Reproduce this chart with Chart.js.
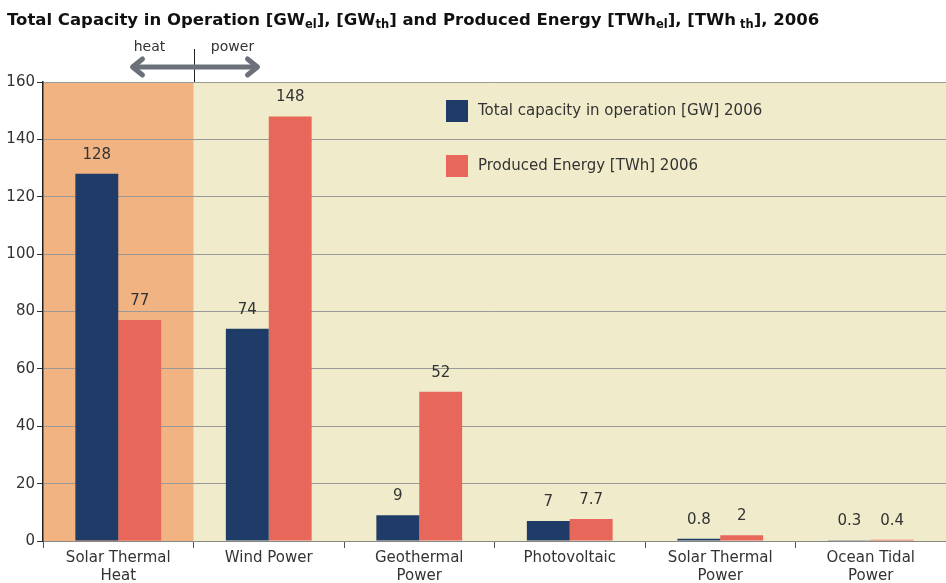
<!DOCTYPE html>
<html><head><meta charset="utf-8">
<script src="https://cdn.jsdelivr.net/npm/chart.js@4"></script>
<style>html,body{margin:0;padding:0;background:#fff}#wrap{width:946px;height:583px;position:relative}</style>
</head><body><div id="wrap"><canvas id="c" width="946" height="583"></canvas></div>
<script>
const categories = [["Solar Thermal","Heat"],["Wind Power"],["Geothermal","Power"],["Photovoltaic"],["Solar Thermal","Power"],["Ocean Tidal","Power"]];
const capacity = [128, 74, 9, 7, 0.8, 0.3];
const energy = [77, 148, 52, 7.7, 2, 0.4];
const capacityLabels = ["128","74","9","7","0.8","0.3"];
const energyLabels = ["77","148","52","7.7","2","0.4"];
const yTicks = [0,20,40,60,80,100,120,140,160];
const seriesNames = ["Total capacity in operation [GW] 2006","Produced Energy [TWh] 2006"];
const FONT = '"DejaVu Sans", Verdana, sans-serif';
const TXT = '#333333';

const overlay = {
  id:'overlay',
  beforeDraw(chart){
    const {ctx, chartArea:a, scales:{x}} = chart;
    const b = (x.getPixelForValue(0)+x.getPixelForValue(1))/2;
    ctx.save();
    ctx.fillStyle='#F0ECCB'; ctx.fillRect(a.left,a.top,a.right-a.left,a.bottom-a.top);
    ctx.fillStyle='#F2B383'; ctx.fillRect(a.left,a.top,b-a.left,a.bottom-a.top);
    ctx.restore();
  },
  afterDraw(chart){
    const {ctx, chartArea:a, scales:{x,y}} = chart;
    ctx.save();
    const parts=[["Total Capacity in Operation [GW",0],["el",1],["], [GW",0],["th",1],["] and Produced Energy [TWh",0],["el",1],["], [TWh",0],[" th",1],["], 2006",0]];
    let px=7;
    ctx.fillStyle='#111'; ctx.textBaseline='alphabetic'; ctx.textAlign='left';
    for(const [t,s] of parts){
      ctx.font = s? 'bold 11.5px '+FONT : 'bold 16.5px '+FONT;
      ctx.fillText(t,px, s?28:25);
      px += ctx.measureText(t).width;
    }
    const b = (x.getPixelForValue(0)+x.getPixelForValue(1))/2;
    ctx.font='14px '+FONT; ctx.fillStyle=TXT; ctx.textAlign='center'; ctx.textBaseline='middle';
    ctx.fillText('heat', b-44, 47);
    ctx.fillText('power', b+39, 47);
    ctx.strokeStyle='#222'; ctx.lineWidth=1;
    ctx.beginPath(); ctx.moveTo(Math.round(b)+0.5,49); ctx.lineTo(Math.round(b)+0.5,a.top); ctx.stroke();
    ctx.strokeStyle='#6B7079'; ctx.lineWidth=5; ctx.lineCap='round'; ctx.lineJoin='round';
    const L=b-61, R=b+64, Y=67;
    ctx.beginPath(); ctx.moveTo(L+2,Y); ctx.lineTo(R-2,Y); ctx.stroke();
    ctx.beginPath(); ctx.moveTo(L+10,Y-8); ctx.lineTo(L,Y); ctx.lineTo(L+10,Y+8); ctx.stroke();
    ctx.beginPath(); ctx.moveTo(R-10,Y-8); ctx.lineTo(R,Y); ctx.lineTo(R-10,Y+8); ctx.stroke();
    ctx.font='15px '+FONT; ctx.fillStyle=TXT; ctx.textAlign='center'; ctx.textBaseline='middle';
    const labs=[capacityLabels, energyLabels];
    chart.data.datasets.forEach((ds,di)=>{
      chart.getDatasetMeta(di).data.forEach((el,i)=>{
        ctx.fillText(labs[di][i], el.x, el.y-19);
      });
    });
    const cols=['#1F3C68','#E8675B'];
    const ly=[111,166];
    ctx.textAlign='left';
    for(let i=0;i<2;i++){
      ctx.fillStyle=cols[i]; ctx.fillRect(446, ly[i]-11, 22, 22);
      ctx.fillStyle=TXT; ctx.fillText(seriesNames[i], 478, ly[i]);
    }
    ctx.restore();
  }
};

new Chart(document.getElementById('c'),{
  type:'bar',
  data:{labels:categories, datasets:[
    {label:seriesNames[0], data:capacity, backgroundColor:'#1F3C68', barPercentage:1, categoryPercentage:0.57},
    {label:seriesNames[1], data:energy, backgroundColor:'#E8675B', barPercentage:1, categoryPercentage:0.57}
  ]},
  options:{
    responsive:false, animation:false, devicePixelRatio:1,
    layout:{padding:{top:82,right:0,left:0,bottom:0}},
    plugins:{legend:{display:false}, title:{display:false}, tooltip:{enabled:false}},
    scales:{
      x:{
        grid:{offset:true, drawOnChartArea:false, drawTicks:true, tickLength:7, color:'#555'},
        border:{color:'#888', width:1},
        ticks:{font:{family:FONT,size:15}, color:TXT, padding:1, maxRotation:0, autoSkip:false},
        afterFit(s){s.height=42;}
      },
      y:{
        min:0, max:160,
        afterBuildTicks(s){s.ticks=yTicks.map(v=>({value:v}));},
        grid:{color:'#999', drawTicks:true, tickLength:6, tickColor:'#333'},
        border:{color:'#222', width:1.5},
        ticks:{font:{family:FONT,size:15}, color:TXT, padding:2},
        afterFit(s){s.width=43;}
      }
    }
  },
  plugins:[overlay]
});
</script></body></html>
